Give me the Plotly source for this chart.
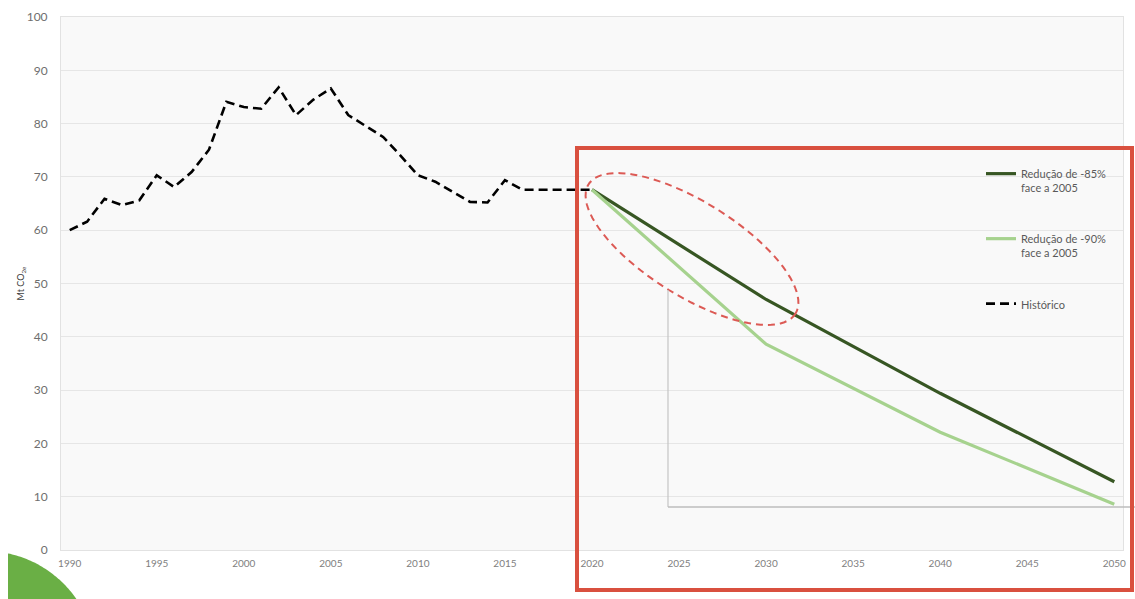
import numpy as np
import plotly.graph_objects as go

# ---------------- data ----------------
years_hist = list(range(1990, 2021))
historico = [60.0, 61.6, 65.9, 64.7, 65.6, 70.3, 68.1, 70.9, 75.1, 84.1,
             83.1, 82.8, 86.8, 81.6, 84.5, 86.6, 81.6, 79.5, 77.5, 74.0,
             70.3, 69.1, 67.2, 65.3, 65.2, 69.4, 67.6, 67.6, 67.6, 67.6, 67.6]
years_proj = [2020, 2030, 2040, 2050]
reducao_85 = [67.6, 47.0, 29.4, 12.8]
reducao_90 = [67.6, 38.6, 22.1, 8.6]
x_ticks = list(range(1990, 2051, 5))
y_ticks = list(range(0, 101, 10))

name_85 = "Redução de -85%<br>face a 2005"
name_90 = "Redução de -90%<br>face a 2005"
name_hist = "Histórico"

# ---------------- layout geometry (pixels) ----------------
W, H = 1135, 599
L, R, T, B = 61, 12, 17, 49
PW = W - L - R
PH = H - T - B


def px(x):
    return (x - L) / PW


def py(y):
    return (H - B - y) / PH


FONT = "Lato, 'Open Sans', sans-serif"

fig = go.Figure()
fig.add_trace(go.Scatter(
    x=years_proj, y=reducao_85, mode="lines", name=name_85,
    line=dict(color="#375623", width=3.2), legend="legend"))
fig.add_trace(go.Scatter(
    x=years_proj, y=reducao_90, mode="lines", name=name_90,
    line=dict(color="#a6d28e", width=3.2), legend="legend2"))
fig.add_trace(go.Scatter(
    x=years_hist, y=historico, mode="lines", name=name_hist,
    line=dict(color="#000000", width=2.6, dash="9px,5px"), legend="legend3"))

# ---------------- decorative shapes ----------------
shapes = []
# dashed ellipse around 2020-2030 segment
cx, cy, a, b, th = 692, 249, 122, 47, np.deg2rad(32)
t = np.linspace(0, 2 * np.pi, 90)
ex = cx + a * np.cos(t) * np.cos(th) - b * np.sin(t) * np.sin(th)
ey = cy + a * np.cos(t) * np.sin(th) + b * np.sin(t) * np.cos(th)
path = "M " + " L ".join(f"{px(x):.5f},{py(y):.5f}" for x, y in zip(ex, ey)) + " Z"
shapes.append(dict(type="path", xref="paper", yref="paper", path=path,
                   line=dict(color="#dc5a55", width=2, dash="7px,5px")))
# grey inset border
shapes.append(dict(type="line", xref="paper", yref="paper",
                   x0=px(668), x1=px(668), y0=py(290), y1=py(507),
                   line=dict(color="#c4c4c4", width=1.2)))
shapes.append(dict(type="line", xref="paper", yref="paper",
                   x0=px(668), x1=px(1135), y0=py(507), y1=py(507),
                   line=dict(color="#bdbdbd", width=1.6)))
# red highlight box
shapes.append(dict(type="rect", xref="paper", yref="paper",
                   x0=px(577), x1=px(1132), y0=py(590), y1=py(148),
                   line=dict(color="#d9503f", width=4), fillcolor="rgba(0,0,0,0)"))
# green circle segment bottom-left
gcx, gcy, gr = -15, 662, 111
phi = np.linspace(np.arccos((8 - gcx) / gr), np.arcsin((gcy - 599) / gr), 40)
gx = gcx + gr * np.cos(phi)
gy = gcy - gr * np.sin(phi)
pts = list(zip(gx, gy)) + [(8, 599)]
gpath = "M " + " L ".join(f"{px(x):.5f},{py(y):.5f}" for x, y in pts) + " Z"
shapes.append(dict(type="path", xref="paper", yref="paper", path=gpath,
                   line=dict(width=0), fillcolor="#6aaf45"))

leg_common = dict(xanchor="left", yanchor="top", bgcolor="rgba(0,0,0,0)",
                  borderwidth=0, valign="top",
                  font=dict(family=FONT, size=11, color="#595959"))

fig.update_layout(
    width=W, height=H,
    margin=dict(l=L, r=R, t=T, b=B, pad=0, autoexpand=False),
    paper_bgcolor="white",
    plot_bgcolor="#f9f9f9",
    font=dict(family=FONT, color="#595959"),
    showlegend=True,
    legend=dict(x=px(981), y=py(160), **leg_common),
    legend2=dict(x=px(981), y=py(225), **leg_common),
    legend3=dict(x=px(981), y=py(290), **leg_common),
    xaxis=dict(range=[1989.5, 2050.5], tickmode="array", tickvals=x_ticks,
               ticktext=[str(v) for v in x_ticks], showgrid=False, zeroline=False,
               showline=True, linecolor="#e2e2e2", linewidth=1, mirror=True,
               ticks="", ticklabelstandoff=4, automargin=False,
               tickfont=dict(family=FONT, size=10, color="#808080")),
    yaxis=dict(range=[0, 100], tickmode="array", tickvals=y_ticks,
               showgrid=True, gridcolor="#e6e6e6", gridwidth=1, zeroline=False,
               showline=True, linecolor="#e2e2e2", linewidth=1, mirror=True,
               ticks="", ticklabelstandoff=10, automargin=False,
               tickfont=dict(family=FONT, size=12, color="#6e6e6e"),
               title=dict(text="Mt CO<sub>2e</sub>", standoff=0,
                          font=dict(family=FONT, size=9, color="#404040"))),
    shapes=shapes,
)

fig.write_html(
    "out.html",
    config={"displayModeBar": False},
    post_script="document.body.style.margin='0px';document.body.style.overflow='hidden';",
)
